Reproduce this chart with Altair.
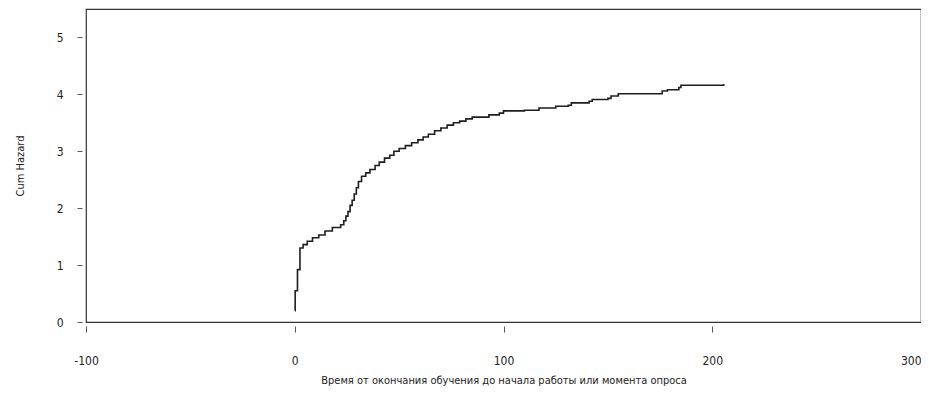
import altair as alt
import pandas as pd

# Step points of the cumulative hazard curve (time, cumulative hazard)
time = [0.0, 0.2, 1.3, 2.5, 4.0, 6.0, 8.5, 11.5, 14.5, 18.0, 22.0, 23.5, 24.5,
        25.5, 26.5, 27.5, 28.5, 29.5, 30.5, 32.0, 34.0, 36.0, 38.5, 40.5, 43.0,
        45.5, 47.5, 50.0, 53.0, 56.0, 59.0, 61.5, 64.0, 67.0, 70.0, 73.0, 76.0,
        79.0, 82.0, 85.0, 93.0, 98.0, 100.0, 110.0, 117.0, 125.0, 131.0, 132.5,
        141.0, 142.5, 150.0, 151.5, 155.0, 176.0, 178.5, 184.0, 185.0, 205.5]
cumhaz = [0.20, 0.55, 0.92, 1.30, 1.36, 1.42, 1.48, 1.53, 1.60, 1.66, 1.71, 1.78, 1.86,
          1.94, 2.05, 2.14, 2.25, 2.36, 2.47, 2.56, 2.62, 2.68, 2.75, 2.81, 2.88,
          2.93, 3.00, 3.05, 3.10, 3.15, 3.20, 3.25, 3.30, 3.36, 3.41, 3.46, 3.50,
          3.53, 3.57, 3.60, 3.64, 3.67, 3.71, 3.72, 3.76, 3.79, 3.81, 3.85,
          3.88, 3.91, 3.93, 3.97, 4.01, 4.06, 4.08, 4.12, 4.16, 4.18]

x_ticks = [-100, 0, 100, 200, 300]
y_ticks = [0, 1, 2, 3, 4, 5]

df = pd.DataFrame({"t": time, "h": cumhaz})

FONT = "'DejaVu Sans Condensed', 'Liberation Sans', sans-serif"

chart = alt.Chart(df).mark_line(
    interpolate="step-after", color="#1e1e1e", strokeWidth=1.6
).encode(
    x=alt.X("t:Q",
            scale=alt.Scale(domain=[-100, 300], nice=False, zero=False),
            axis=alt.Axis(values=x_ticks, title="Время от окончания обучения до начала работы или момента опроса",
                          offset=4, domain=False, tickSize=6, tickColor="#555",
                          labelPadding=23, titlePadding=8, grid=False,
                          labelExpr="replace(datum.label, '\u2212', '-')",
                          labelAlign={"expr": "datum.value == 300 ? 'right' : 'center'"},
                          labelFont=FONT, labelFontSize=12, labelColor="#222",
                          titleFont=FONT, titleFontSize=11, titleFontWeight="normal",
                          titleColor="#222", format="d")),
    y=alt.Y("h:Q",
            scale=alt.Scale(domain=[0, 5.5], nice=False),
            axis=alt.Axis(values=y_ticks, title="Cum Hazard",
                          offset=4, domain=False, tickSize=5, tickColor="#555",
                          labelPadding=14, titlePadding=31, grid=False,
                          labelFont=FONT, labelFontSize=12, labelColor="#222",
                          titleFont=FONT, titleFontSize=11, titleFontWeight="normal",
                          titleColor="#222")),
).properties(
    width=835,
    height=313,
    autosize=alt.AutoSizeParams(type="none"),
    padding={"left": 78, "top": 1, "right": 0, "bottom": 70},
    background="white",
).configure_view(
    stroke="#333", strokeWidth=1.2
)

chart.save("out.html", embed_options={"renderer": "svg", "actions": False})
